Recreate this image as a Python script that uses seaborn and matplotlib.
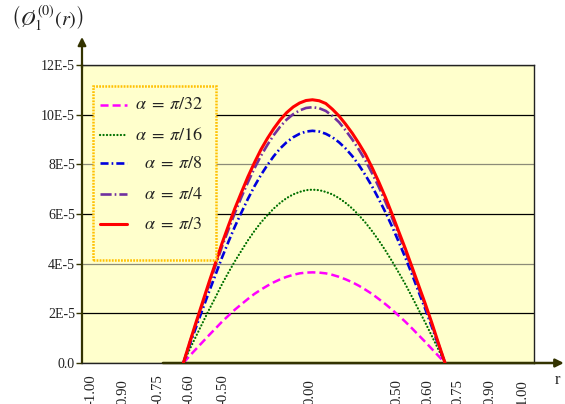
import numpy as np
import pandas as pd
import matplotlib
matplotlib.use("Agg")
import matplotlib.pyplot as plt
from matplotlib.patches import Rectangle
from matplotlib.lines import Line2D
import seaborn as sns

# ---- data -----------------------------------------------------------------
r = [-0.627, -0.598, -0.579, -0.560, -0.541, -0.522, -0.504, -0.470, -0.433,
     -0.395, -0.358, -0.321, -0.284, -0.246, -0.209, -0.172, -0.135, -0.097,
     -0.060, -0.023, 0.014,
     0.053, 0.091, 0.129, 0.167, 0.205, 0.244, 0.282, 0.320, 0.358, 0.396,
     0.435, 0.473, 0.506, 0.528, 0.549, 0.570, 0.592, 0.620, 0.652, 0.685]

# phi_1^(0)(r) in units of 1E-5
phi_pi32 = [0, 0.29, 0.57, 0.85, 1.13, 1.40, 1.66, 1.91, 2.15, 2.37, 2.58,
            2.78, 2.95, 3.11, 3.25, 3.37, 3.47, 3.55, 3.61, 3.64, 3.65,
            3.64, 3.61, 3.55, 3.47, 3.37, 3.25, 3.11, 2.95, 2.78, 2.58,
            2.37, 2.15, 1.91, 1.66, 1.40, 1.13, 0.85, 0.57, 0.29, 0]
phi_pi16 = [0, 0.55, 1.09, 1.63, 2.16, 2.67, 3.17, 3.65, 4.10, 4.53, 4.94,
            5.31, 5.65, 5.95, 6.22, 6.45, 6.64, 6.79, 6.89, 6.96, 6.98,
            6.96, 6.89, 6.79, 6.64, 6.45, 6.22, 5.95, 5.65, 5.31, 4.94,
            4.53, 4.10, 3.65, 3.17, 2.67, 2.16, 1.63, 1.09, 0.55, 0]
phi_pi8 = [0, 0.73, 1.46, 2.18, 2.89, 3.58, 4.24, 4.89, 5.50, 6.07, 6.61,
           7.11, 7.56, 7.97, 8.33, 8.64, 8.89, 9.09, 9.23, 9.32, 9.35,
           9.32, 9.23, 9.09, 8.89, 8.64, 8.33, 7.97, 7.56, 7.11, 6.61,
           6.07, 5.50, 4.89, 4.24, 3.58, 2.89, 2.18, 1.46, 0.73, 0]
phi_pi4 = [0, 0.81, 1.61, 2.40, 3.18, 3.94, 4.68, 5.38, 6.05, 6.69, 7.28,
           7.83, 8.33, 8.78, 9.18, 9.52, 9.80, 10.02, 10.17, 10.27, 10.30,
           10.26, 10.15, 9.95, 9.70, 9.37, 9.00, 8.59, 8.15, 7.64, 7.10,
           6.49, 5.85, 5.18, 4.50, 3.78, 3.05, 2.30, 1.55, 0.78, 0]
phi_pi3 = [0, 0.83, 1.66, 2.47, 3.28, 4.06, 4.81, 5.54, 6.23, 6.88, 7.50,
           8.06, 8.58, 9.04, 9.44, 9.79, 10.08, 10.31, 10.47, 10.57, 10.60,
           10.56, 10.45, 10.22, 9.95, 9.62, 9.25, 8.84, 8.40, 7.87, 7.30,
           6.67, 6.00, 5.31, 4.60, 3.88, 3.15, 2.39, 1.62, 0.81, 0]

series_labels = [r"$\alpha\;=\;\pi/32$", r"$\alpha\;=\;\pi/16$", r"$\alpha\;=\;\pi/8$",
                 r"$\alpha\;=\;\pi/4$", r"$\alpha\;=\;\pi/3$"]
series_values = [phi_pi32, phi_pi16, phi_pi8, phi_pi4, phi_pi3]

x_ticks = [-1.00, -0.90, -0.75, -0.60, -0.50, 0.00, 0.50, 0.60, 0.75, 0.90, 1.00]
x_tick_labels = ["-1.00", "0.90", "-0.75", "-0.60", "-0.50", "0.00",
                 "0.50", "0.60", "0.75", "0.90", "1.00"]
y_ticks = [0, 2, 4, 6, 8, 10, 12]
y_tick_labels = ["0.0", "2E-5", "4E-5", "6E-5", "8E-5", "10E-5", "12E-5"]

# ---- styles ---------------------------------------------------------------
colors = ["#FF00FF", "#007000", "#0000DD", "#7030A0", "#FF0000"]
widths = [1.8, 1.6, 1.9, 1.9, 2.2]
styles = [(0, (5.8, 2.9)),
          (0, (0.1, 2.4)),
          (0, (5.8, 2.2, 1.2, 2.2)),
          (0, (8.0, 2.2, 1.2, 2.2)),
          "-"]
caps = ["butt", "round", "butt", "butt", "butt"]

# Non-uniform r axis: each labelled r value sits at a fixed spot along the axis
scale_r = [-1.20, -1.00, -0.90, -0.75, -0.60, -0.50, 0.00, 0.50, 0.60, 0.75, 0.90, 1.00, 1.20]
scale_pos = [26.4, 91.0, 123.3, 157.7, 189.0, 223.3, 310.0, 396.7, 427.7, 458.3, 490.0, 522.3, 586.9]


def fwd(v):
    return np.interp(v, scale_r, scale_pos)


def inv(v):
    return np.interp(v, scale_pos, scale_r)


sns.set_style("ticks")
plt.rcParams["font.family"] = ["Liberation Serif", "DejaVu Serif"]
plt.rcParams["mathtext.fontset"] = "stix"
plt.rcParams["lines.scale_dashes"] = False

W, H = 565, 404
fig = plt.figure(figsize=(W / 100, H / 100), dpi=100)
ax = fig.add_axes([82 / W, 41 / H, 452 / W, 298 / H])
ax.set_facecolor("#FFFFCC")
ax.set_xscale("function", functions=(fwd, inv))
ax.set_xlim(-1.0279, 1.0362)
ax.set_ylim(0, 12e-5)

df = pd.DataFrame({
    "r": np.tile(r, len(series_values)),
    "phi": np.concatenate([np.array(v) * 1e-5 for v in series_values]),
    "alpha": np.repeat(series_labels, len(r)),
})

for i, lab in enumerate(series_labels):
    sub = df[df["alpha"] == lab]
    sns.lineplot(data=sub, x="r", y="phi", color=colors[i], linewidth=widths[i],
                 linestyle=styles[i], dash_capstyle=caps[i], sort=False,
                 estimator=None, ax=ax, zorder=3 + i)

# horizontal grid
ax.set_yticks([v * 1e-5 for v in y_ticks])
ax.set_yticklabels(y_tick_labels, fontsize=10, color="#222222")
ax.yaxis.grid(True, color="black", linewidth=0.9)
for i, gl in enumerate(ax.yaxis.get_gridlines()):
    if y_ticks[i] in (4, 8):
        gl.set_color("#8c8c78")
ax.xaxis.grid(False)
ax.set_axisbelow(True)
ax.tick_params(axis="y", length=4, width=1, color="#333300", pad=1)

ax.set_xticks(x_ticks)
ax.set_xticklabels(x_tick_labels, rotation=90, fontsize=10.6, color="#222222")
ax.tick_params(axis="x", length=0, pad=30.0)
for t in ax.get_xticklabels():
    t.set_va("bottom")
ax.set_xlabel("")
ax.set_ylabel("")

for s in ["top", "right", "bottom"]:
    ax.spines[s].set_color("#222222")
    ax.spines[s].set_linewidth(1.0)
ax.spines["left"].set_color("#333300")
ax.spines["left"].set_linewidth(1.6)

# axis arrows
ax.annotate("", xy=(0, 1.094), xytext=(0, 0.99), xycoords="axes fraction",
            annotation_clip=False,
            arrowprops=dict(arrowstyle="-|>", color="#333300", lw=1.6,
                            mutation_scale=12, shrinkA=0, shrinkB=0))
ax.annotate("", xy=(1.066, 0), xytext=(0.179, 0), xycoords="axes fraction",
            annotation_clip=False,
            arrowprops=dict(arrowstyle="-|>", color="#333300", lw=1.8,
                            mutation_scale=12, shrinkA=0, shrinkB=0))
ax.text(1.051, -0.057, "r", transform=ax.transAxes, fontsize=12,
        ha="center", va="center", color="#222222")
ax.text(-0.077, 1.158, r"$\left(\O_1^{(0)}(r)\right)$", transform=ax.transAxes,
        fontsize=14.5, ha="center", va="center", color="#222222")

# legend box
ax.add_patch(Rectangle((0.0243, 0.3456), 0.2722, 0.5839, transform=ax.transAxes,
                       facecolor="#FFFFCC", edgecolor="#FFC000", linewidth=1.8,
                       linestyle=(0, (1.3, 0.9)), zorder=10))
rows = [0.8658, 0.765, 0.671, 0.567, 0.466]
for i, lab in enumerate(series_labels):
    ax.add_line(Line2D([0.0398, 0.0996], [rows[i], rows[i]], transform=ax.transAxes,
                       color=colors[i], linewidth=widths[i], linestyle=styles[i],
                       dash_capstyle=caps[i], zorder=11))
    ax.text(0.2677, rows[i], lab, transform=ax.transAxes, fontsize=13,
            ha="right", va="center", color="#222222", zorder=12)

fig.savefig("out.png", dpi=100)
